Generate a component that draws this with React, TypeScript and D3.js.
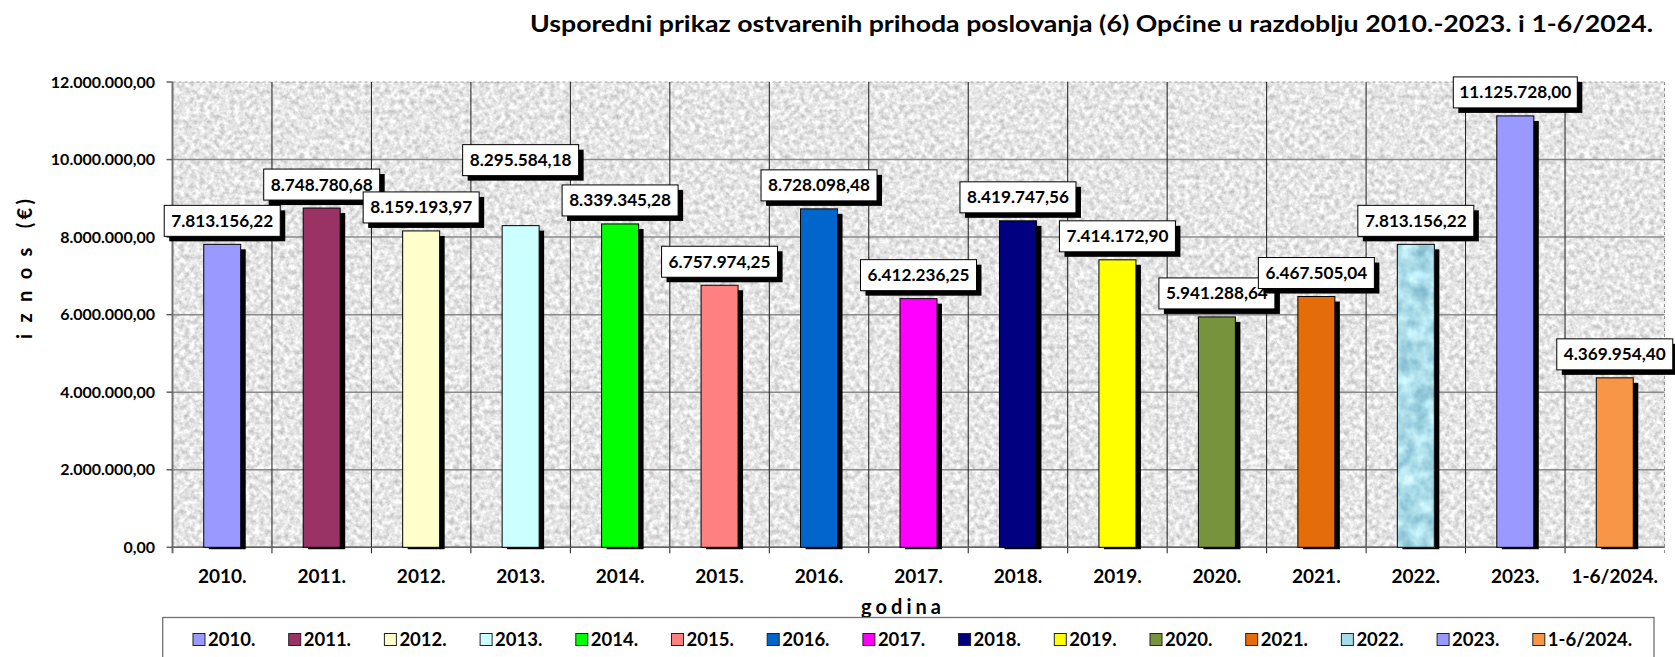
import React from "react";
import * as d3 from "d3";

const title = "Usporedni prikaz ostvarenih prihoda poslovanja (6) Općine u razdoblju 2010.-2023. i 1-6/2024.";
const yAxisTitle = "i z n o s  (€)";
const xAxisTitle = "g o d i n a";

const categories = ["2010.", "2011.", "2012.", "2013.", "2014.", "2015.", "2016.", "2017.", "2018.", "2019.", "2020.", "2021.", "2022.", "2023.", "1-6/2024."];
const values = [7813156.22, 8748780.68, 8159193.97, 8295584.18, 8339345.28, 6757974.25, 8728098.48, 6412236.25, 8419747.56, 7414172.9, 5941288.64, 6467505.04, 7813156.22, 11125728.0, 4369954.4];
const barColors = ["#9999ff", "#993366", "#ffffcc", "#ccffff", "#00ff00", "#ff8080", "#0066cc", "#ff00ff", "#000080", "#ffff00", "#77933c", "#e46c0a", "#a6dce8", "#9999ff", "#f79646"];
const yTicks = [0, 2000000, 4000000, 6000000, 8000000, 10000000, 12000000];

// layout (not data)
const W = 1675, H = 657;
const PL = 172.5, PR = 1664.5, PT = 82, PB = 547.3;
const labelLift: Record<string, number> = { "2013.": 42 };
const FONT = "Lato, 'Open Sans', 'DejaVu Sans', sans-serif";

const locale = d3.formatLocale({ decimal: ",", thousands: ".", grouping: [3], currency: ["", "€"] });
const fmt = locale.format(",.2f");

export default function App() {
  const x = d3.scaleBand<string>().domain(categories).range([PL, PR]).padding(0);
  const y = d3.scaleLinear().domain([0, 12000000]).range([PB, PT]);
  const bw = 37;
  const bounds = d3.range(categories.length + 1).map((i) => PL + i * x.step());
  const legendStart = 193, legendStep = 95.7;
  const cxOf = (i: number) => (x(categories[i]) as number) + x.bandwidth() / 2;

  return (
    <svg width={W} height={H} style={{ position: "absolute", left: 0, top: 0, background: "#fff" }}>
      <defs>
        <filter id="granite" x="0" y="0" width="1" height="1" colorInterpolationFilters="sRGB">
          <feTurbulence type="fractalNoise" baseFrequency="0.2" numOctaves={4} seed={7} />
          <feColorMatrix type="matrix" values="0.42 0 0 0 0.69  0.42 0 0 0 0.69  0.42 0 0 0 0.69  0 0 0 0 1" />
        </filter>
        <filter id="water" x="0" y="0" width="1" height="1" colorInterpolationFilters="sRGB">
          <feTurbulence type="fractalNoise" baseFrequency="0.07" numOctaves={3} seed={3} />
          <feColorMatrix type="matrix" values="0.55 0 0 0 0.4  0.45 0 0 0 0.64  0.35 0 0 0 0.74  0 0 0 0 1" />
        </filter>
        <clipPath id="plotclip">
          <rect x={PL} y={PT} width={PR - PL} height={PB - PT + 2.5} />
        </clipPath>
      </defs>

      {/* title */}
      <text x={1091.5} y={32} textAnchor="middle" fontFamily={FONT} fontWeight={700} fontSize={22}
        textLength={1123} lengthAdjust="spacingAndGlyphs">{title}</text>

      {/* plot background */}
      <rect x={PL} y={PT} width={PR - PL} height={PB - PT} fill="#e8e8e8" />
      <rect x={PL} y={PT} width={PR - PL} height={PB - PT} filter="url(#granite)" />

      {/* horizontal grid */}
      {yTicks.map((t) => (
        <line key={"g" + t} x1={PL} x2={PR} y1={y(t)} y2={y(t)}
          stroke={t === 12000000 ? "#a0a0a0" : "#8a8a8a"} strokeWidth={t === 12000000 ? 1 : 1.5}
          strokeDasharray={t === 12000000 ? "3 3" : undefined} />
      ))}
      {/* vertical grid / category boundaries */}
      {bounds.map((bx, i) => (
        <line key={"v" + i} x1={bx} x2={bx} y1={PT} y2={PB + 6}
          stroke={i === 0 ? "#707070" : i === categories.length ? "#909090" : "#1a1a1a"}
          strokeWidth={i === 0 ? 2 : 1} strokeDasharray={i === categories.length ? "3 3" : undefined} />
      ))}
      {/* axes */}
      <line x1={PL} x2={PR} y1={PB} y2={PB} stroke="#606060" strokeWidth={1.5} />
      {yTicks.map((t) => (
        <g key={"t" + t}>
          <line x1={PL - 6} x2={PL} y1={y(t)} y2={y(t)} stroke="#606060" strokeWidth={1.5} />
          <text x={155} y={y(t) + 5.5} textAnchor="end" fontFamily={FONT} fontWeight={700} fontSize={16}>{fmt(t)}</text>
        </g>
      ))}

      {/* bar shadows */}
      <g clipPath="url(#plotclip)">
        {values.map((v, i) => {
          const top = y(v);
          return <rect key={"s" + i} x={cxOf(i) - bw / 2 + 5} y={top + 5} width={bw} height={PB - top - 3} fill="#000" />;
        })}
      </g>
      {/* bars */}
      {values.map((v, i) => {
        const cx = cxOf(i);
        const top = y(v);
        return (
          <g key={"b" + i}>
            <rect x={cx - bw / 2} y={top} width={bw} height={PB - top} fill={barColors[i]} />
            {i === 12 && (
              <rect x={cx - bw / 2} y={top} width={bw} height={PB - top} filter="url(#water)" opacity={0.85} />
            )}
            <rect x={cx - bw / 2} y={top} width={bw} height={PB - top} fill="none" stroke="#000" strokeWidth={1} />
          </g>
        );
      })}

      {/* data labels */}
      {values.map((v, i) => {
        const cx = cxOf(i);
        const label = fmt(v);
        const bwid = 116 + (label.length - 12) * 8;
        const bh = 31;
        const bottom = y(v) - 8 - (labelLift[categories[i]] || 0);
        const bx = cx - bwid / 2;
        return (
          <g key={"l" + i}>
            <rect x={bx + 5} y={bottom - bh + 5} width={bwid} height={bh} fill="#000" />
            <rect x={bx} y={bottom - bh} width={bwid} height={bh} fill="#fff" stroke="#000" strokeWidth={1} />
            <text x={cx} y={bottom - bh / 2 + 6} textAnchor="middle" fontFamily={FONT} fontWeight={700} fontSize={17.2}>{label}</text>
          </g>
        );
      })}

      {/* category labels */}
      {categories.map((c) => (
        <text key={"c" + c} x={(x(c) as number) + x.bandwidth() / 2} y={582.5} textAnchor="middle"
          fontFamily={FONT} fontWeight={700} fontSize={19}>{c}</text>
      ))}

      {/* axis titles */}
      <text transform={`translate(32,269) rotate(-90)`} textAnchor="middle" fontFamily={FONT} fontWeight={700}
        fontSize={20} textLength={140} lengthAdjust="spacing" style={{ whiteSpace: "pre" }}>{yAxisTitle}</text>
      <text x={901} y={614} textAnchor="middle" fontFamily={FONT} fontWeight={700} fontSize={20}
        textLength={80} lengthAdjust="spacing">{xAxisTitle}</text>

      {/* legend */}
      <rect x={162.7} y={617.5} width={1654 - 162.7} height={60} fill="#fff" stroke="#707070" strokeWidth={1.3} />
      {categories.map((c, i) => {
        const lx = legendStart + i * legendStep;
        return (
          <g key={"lg" + c}>
            <rect x={lx} y={633.5} width={12} height={12} fill={barColors[i]} stroke="#222" strokeWidth={1} />
            <text x={lx + 15} y={646} fontFamily={FONT} fontWeight={700} fontSize={18.5}>{c}</text>
          </g>
        );
      })}
    </svg>
  );
}
